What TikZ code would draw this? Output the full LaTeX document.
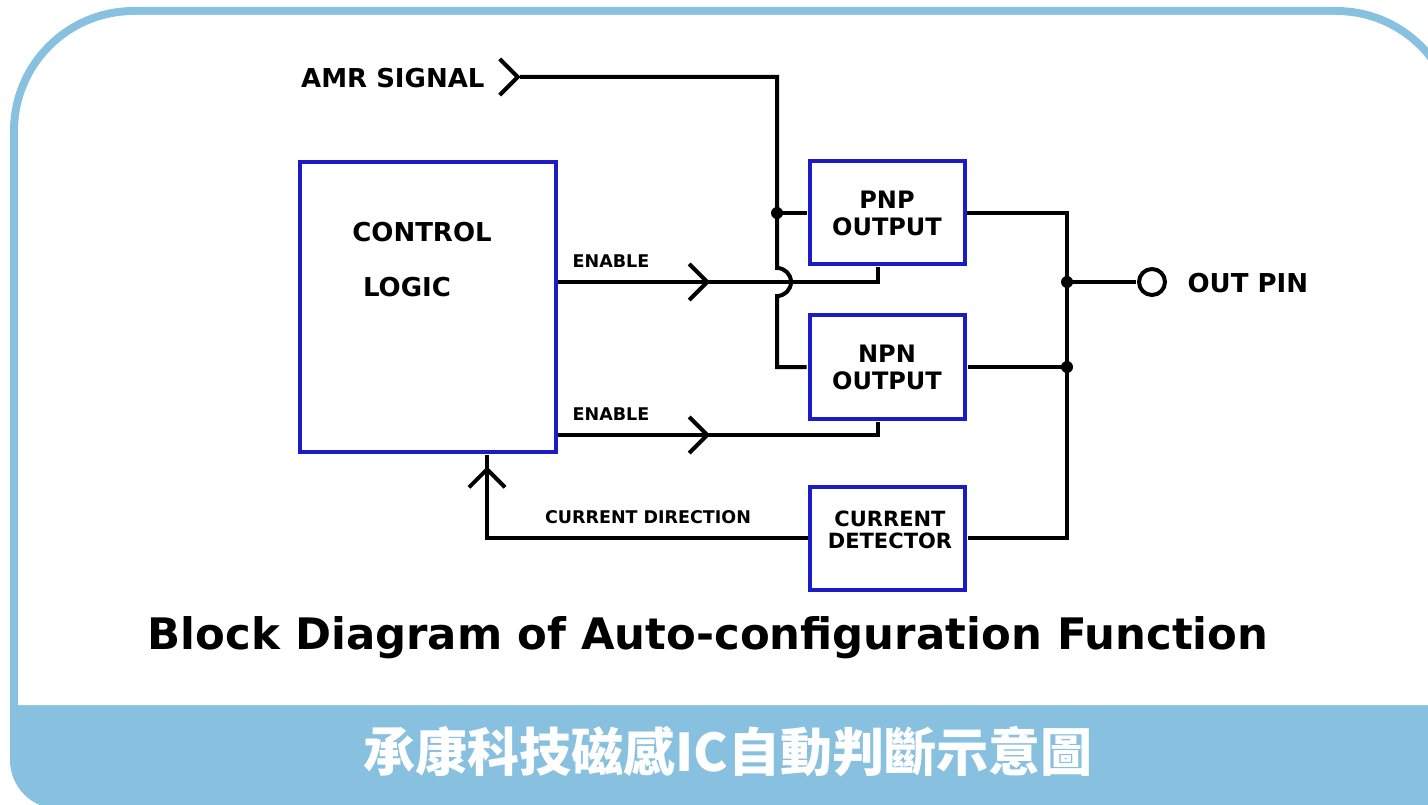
\documentclass[tikz,border=0pt]{standalone}
\usepackage{fontspec}
\setmainfont{DejaVu Sans}
\newfontfamily\cjk{Noto Sans CJK TC}
\usetikzlibrary{arrows.meta,decorations.markings}
\definecolor{frameblue}{HTML}{88C0DF}
\definecolor{boxblue}{HTML}{1C1CC4}
\tikzset{
    blk/.style={draw=boxblue,line width=4pt,minimum width=155pt,minimum height=103pt,inner sep=0pt,align=center,font=\fontsize{24}{27}\selectfont\bfseries},
    wire/.style={line width=4pt,shorten >=1pt},
    chevat/.style={postaction={decorate,decoration={markings,mark=at position #1 with {\arrow{Straight Barb[length=18pt,width=36pt]}}}}},
    lbl/.style={font=\fontsize{17.5}{17.5}\selectfont\bfseries},
    big/.style={font=\fontsize{26}{26}\selectfont\bfseries},
}

\begin{document}
\begin{tikzpicture}[x=1pt,y=1pt]
    \useasboundingbox (0,0) rectangle (1428,-805);
    \fill [frameblue] (10,-760) -- (10,-131) arc[start angle=180,end angle=90,radius=124] -- (1336,-7) arc[start angle=90,end angle=0,radius=124] -- (1460,-760) arc[start angle=0,end angle=-90,radius=49] -- (59,-809) arc[start angle=-90,end angle=-180,radius=49] -- cycle;
    \fill [white] (18,-705) -- (18,-131) arc[start angle=180,end angle=90,radius=116] -- (1336,-15) arc[start angle=90,end angle=0,radius=116] -- (1452,-705) -- cycle;

    \node [blk] (pnp) at (887,-213) {PNP\\OUTPUT};
    \node [blk] (npn) at (887,-367) {NPN\\OUTPUT};
    \node [blk] (det) at (887,-538) {};
    \node [font=\fontsize{21}{22}\selectfont\bfseries,align=center] (dettxt) at (890,-530) {CURRENT\\DETECTOR};
    \node [draw=boxblue,line width=4pt,minimum width=256pt,minimum height=290pt] (ctl) at (428,-307) {};
    \node [big] (ctltop) at (422,-232) {CONTROL};
    \node [big] (ctlbot) at (407,-287) {LOGIC};
    \node [big,anchor=east] (amr) at (488,-78) {AMR SIGNAL};
    \node [draw,circle,line width=4pt,minimum size=26pt,inner sep=0pt] (out) at (1152,-282) {};
    \node [big,anchor=west] (outlbl) at (1184,-283) {OUT PIN};
    \coordinate (amrin) at (520,-77);
    \coordinate (hop) at (777,-282);
    \coordinate (bus) at (1067,-282);

    \draw [wire,chevat=0.5pt] (amrin) -- (hop |- amrin) -- ([yshift=14pt]hop) arc[start angle=90,end angle=-90,radius=14] -- (hop |- npn.west) -- (npn.west);
    \draw [wire] (hop |- pnp.west) -- (pnp.west);
    \fill (hop |- pnp.west) circle (6);
    \draw [wire,chevat=152pt] ([yshift=25pt]ctl.east) -| ([xshift=-9pt]pnp.south);
    \draw [wire,chevat=152pt] ([yshift=-128pt]ctl.east) -| ([xshift=-9pt]npn.south);
    \draw [wire] (pnp.east) -- (bus |- pnp.east) -- (bus |- det.east) -- (det.east);
    \draw [wire] (bus |- npn.east) -- (npn.east);
    \draw [wire] (bus) -- (out);
    \fill (bus) circle (6);
    \fill (bus |- npn.east) circle (6);
    \draw [wire,chevat=392pt] (det.west) -| ([xshift=59pt]ctl.south);

    \node [lbl] (en1) at (611,-261) {ENABLE};
    \node [lbl] (en2) at (611,-414) {ENABLE};
    \node [lbl] (dir) at (648,-517) {CURRENT DIRECTION};
    \node [font=\fontsize{43.4}{43.4}\selectfont\bfseries] (title) at (708,-638) {Block Diagram of Auto-configuration Function};
    \node [text=white,font=\cjk\fontsize{52}{52}\selectfont\bfseries] (cap) at (728,-752) {承康科技磁感IC自動判斷示意圖};
\end{tikzpicture}
\end{document}
